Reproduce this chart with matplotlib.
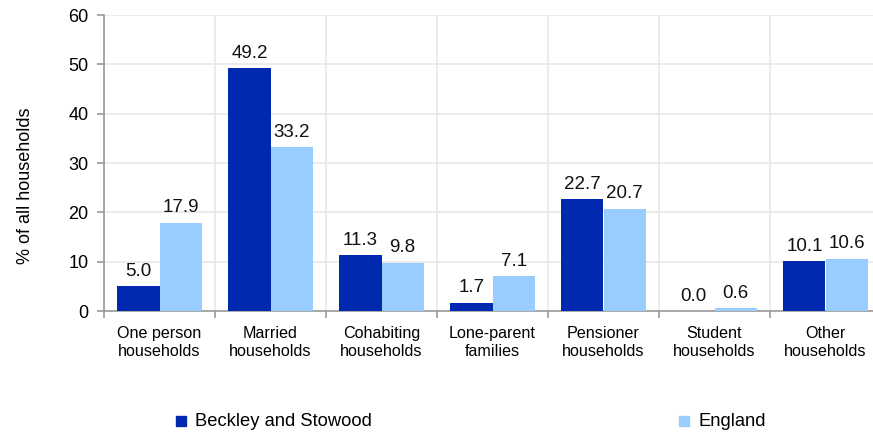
import matplotlib
matplotlib.use("Agg")
import matplotlib.pyplot as plt
import numpy as np

categories = ["One person\nhouseholds", "Married\nhouseholds", "Cohabiting\nhouseholds",
              "Lone-parent\nfamilies", "Pensioner\nhouseholds", "Student\nhouseholds",
              "Other\nhouseholds"]
beckley = [5.0, 49.2, 11.3, 1.7, 22.7, 0.0, 10.1]
england = [17.9, 33.2, 9.8, 7.1, 20.7, 0.6, 10.6]
series_names = ["Beckley and Stowood", "England"]
yticks = [0, 10, 20, 30, 40, 50, 60]

plt.rcParams['font.family'] = ['Liberation Sans', 'DejaVu Sans']
dark = "#0029B0"
light = "#99CCFF"

fig = plt.figure(figsize=(8.73, 4.32), dpi=100)
ax_w = 777
ax = fig.add_axes([104 / 873, 1 - 311 / 432, ax_w / 873, (311 - 15) / 432])

x = np.arange(len(categories))
w = 0.38
b1 = ax.bar(x - w / 2, beckley, w, color=dark, zorder=3)
b2 = ax.bar(x + w / 2, england, w, color=light, zorder=3)
for bars, vals in ((b1, beckley), (b2, england)):
    for r, v in zip(bars, vals):
        ax.text(r.get_x() + r.get_width() / 2, v + 1.3, f"{v:.1f}", ha="center",
                va="bottom", fontsize=13.5, color="#111111")

ax.set_xlim(-0.5, len(categories) - 0.5)
ax.set_ylim(0, 60)
ax.set_yticks(yticks)
ax.set_yticklabels([str(t) for t in yticks], fontsize=13)
ax.set_xticks(x)
ax.set_xticklabels(categories, fontsize=11.6, linespacing=1.22)
ax.tick_params(axis="x", length=0, pad=11)
ax.set_xticks(np.arange(len(categories) + 1) - 0.5, minor=True)
ax.tick_params(axis="x", which="minor", length=5, color="#999999", width=1.2)
ax.tick_params(axis="y", length=5, color="#999999", width=1.2, pad=6)
ax.grid(True, axis="y", color="#e8e8e8", lw=1.2, zorder=0)
ax.grid(True, axis="x", which="minor", color="#e8e8e8", lw=1.2, zorder=0)
for s in ("top", "right"):
    ax.spines[s].set_visible(False)
for s in ("left", "bottom"):
    ax.spines[s].set_color("#999999")
    ax.spines[s].set_linewidth(1.2)
ax.set_ylabel("% of all households", fontsize=13)
ax.yaxis.set_label_coords(-70 / ax_w, (311 - 186) / 296)

fig.patches.append(plt.Rectangle((176 / 873, 1 - 426 / 432), 10 / 873, 10 / 432,
                                 transform=fig.transFigure, color=dark))
fig.text(195 / 873, 1 - 421 / 432, series_names[0], fontsize=13.2, va="center")
fig.patches.append(plt.Rectangle((679 / 873, 1 - 426 / 432), 10 / 873, 10 / 432,
                                 transform=fig.transFigure, color=light))
fig.text(698 / 873, 1 - 421 / 432, series_names[1], fontsize=13.2, va="center")

fig.savefig("out.png", dpi=100)
